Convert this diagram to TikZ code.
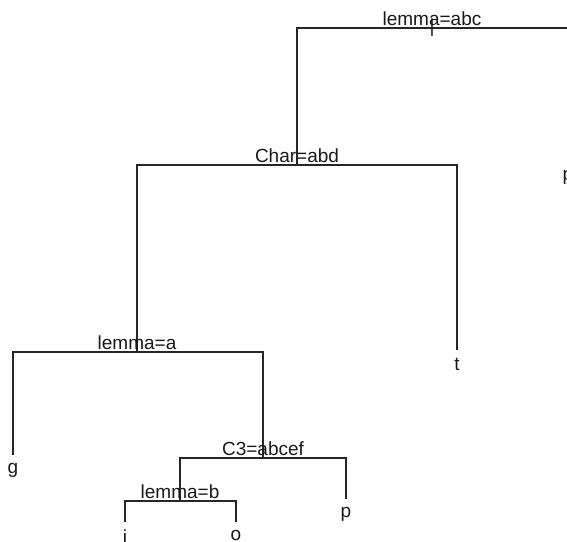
\documentclass[tikz,border=0pt]{standalone}
\usepackage{fontspec}
\setmainfont{Liberation Sans}
\begin{document}
\begin{tikzpicture}[x=1pt,y=-1pt,
  treeline/.style={line width=1.1pt, draw=black!85},
  splitlabel/.style={font=\fontsize{19}{20}\selectfont, inner sep=0pt, anchor=base, text=black!90},
  leaflabel/.style={font=\fontsize{19}{20}\selectfont, inner sep=0pt, anchor=north, text=black!90}]
\useasboundingbox (0,0) rectangle (567,541);
\clip (0,0) rectangle (567,541);
% tree node positions
\coordinate (R) at (432,28);
\coordinate (C) at (297,165);
\coordinate (P1) at (568,162);
\coordinate (L) at (137,352);
\coordinate (T) at (457,350);
\coordinate (G) at (13,455);
\coordinate (K) at (263,458);
\coordinate (B) at (180,501);
\coordinate (P2) at (346,499);
\coordinate (I) at (125,522);
\coordinate (O) at (236,522);
% branches
\draw[treeline] (C) -- (C |- R) -- (P1 |- R) -- (P1);
\draw[treeline] (L) -- (L |- C) -- (T |- C) -- (T);
\draw[treeline] (G) -- (G |- L) -- (K |- L) -- (K);
\draw[treeline] (B) -- (B |- K) -- (P2 |- K) -- (P2);
\draw[treeline] (I) -- (I |- B) -- (O |- B) -- (O);
% split labels
\node[splitlabel] (lR) at ([yshift=3pt]R) {lemma=abc};
\node[splitlabel, anchor=center] (mark) at (R) {|};
\node[splitlabel] (lC) at ([yshift=3pt]C) {Char=abd};
\node[splitlabel] (lL) at ([yshift=3pt]L) {lemma=a};
\node[splitlabel] (lK) at ([yshift=3pt]K) {C3=abcef};
\node[splitlabel] (lB) at ([yshift=3pt]B) {lemma=b};
% leaf labels
\node[leaflabel] (tP1) at ([yshift=-8pt]P1) {p};
\node[leaflabel] (tT) at ([yshift=-8pt]T) {t};
\node[leaflabel] (tG) at ([yshift=-8pt]G) {g};
\node[leaflabel] (tP2) at ([yshift=-8pt]P2) {p};
\node[leaflabel] (tI) at ([yshift=-8pt]I) {i};
\node[leaflabel] (tO) at ([yshift=-8pt]O) {o};
\end{tikzpicture}
\end{document}
